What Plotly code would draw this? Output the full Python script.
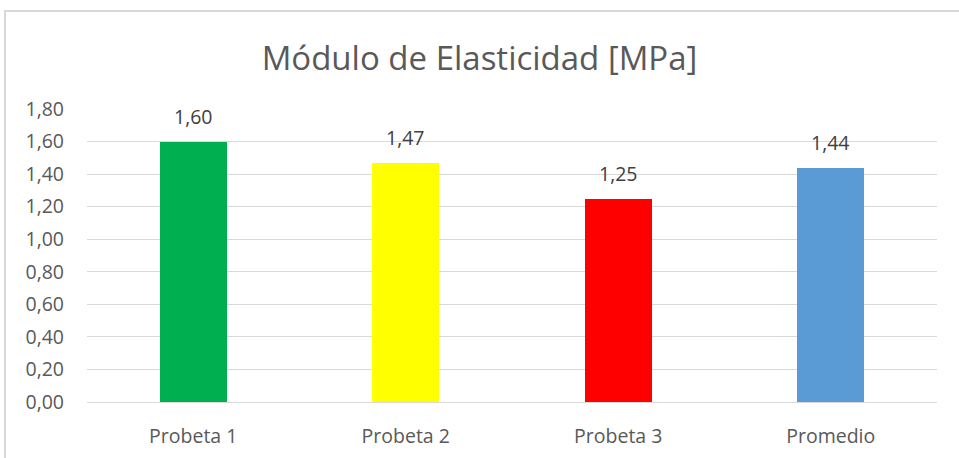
import plotly.graph_objects as go

categories = ["Probeta 1", "Probeta 2", "Probeta 3", "Promedio"]
values = [1.60, 1.47, 1.25, 1.44]
colors = ["#00B050", "#FFFF00", "#FF0000", "#5B9BD5"]
y_ticks = [0.0, 0.2, 0.4, 0.6, 0.8, 1.0, 1.2, 1.4, 1.6, 1.8]
title_text = "Módulo de Elasticidad [MPa]"

FONT = "Open Sans"
GRAY = "#595959"

fig = go.Figure()
fig.add_trace(go.Bar(
    x=categories, y=values, marker=dict(color=colors, line=dict(width=0)),
    width=0.315, hoverinfo="skip",
))

for c, v in zip(categories, values):
    fig.add_annotation(x=c, y=v, text=f"{v:.2f}".replace(".", ","),
                       showarrow=False, yanchor="bottom", yshift=10,
                       font=dict(family=FONT, size=19.5, color="#404040"))

fig.update_layout(
    width=959, height=458,
    margin=dict(l=87, r=22, t=109, b=56, autoexpand=False),
    paper_bgcolor="white", plot_bgcolor="white",
    separators=",.",
    showlegend=False,
    bargap=0,
    title=dict(text=title_text, x=0.5, xanchor="center", y=1 - 58 / 458, yanchor="middle",
               font=dict(family=FONT, size=33, color=GRAY)),
    xaxis=dict(showgrid=False, showline=False, ticks="", ticklabelstandoff=20,
               automargin=False,
               tickfont=dict(family=FONT, size=19.5, color=GRAY)),
    yaxis=dict(range=[0, 1.8], tickvals=y_ticks, tickformat=".2f",
               showgrid=True, gridcolor="#D9D9D9", gridwidth=1,
               zeroline=True, zerolinecolor="#D9D9D9", zerolinewidth=1,
               showline=False, ticks="", ticklabelstandoff=22, automargin=False,
               tickfont=dict(family=FONT, size=19.5, color=GRAY)),
    shapes=[dict(type="rect", xref="paper", yref="paper",
                 x0=(5 - 87) / 850, x1=1.2, y0=-0.5, y1=1 + (109 - 11) / 293,
                 line=dict(color="#D9D9D9", width=2), fillcolor="rgba(0,0,0,0)", layer="below")],
)

fig.write_html("out.html", config={"displayModeBar": False},
               post_script="document.body.style.margin='0';document.body.style.overflow='hidden';")
